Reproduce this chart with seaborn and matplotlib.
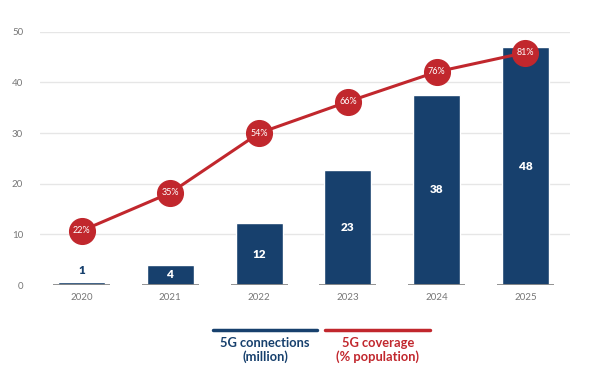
import numpy as np
import pandas as pd
import seaborn as sns
from matplotlib import pyplot as plt
from matplotlib.lines import Line2D

# dados
anos = ['2020', '2021', '2022', '2023', '2024', '2025']
conexoes = [0.6, 4.0, 12.2, 22.7, 37.6, 47.0]        # altura das barras
rotulos_conexoes = ['1', '4', '12', '23', '38', '48']
cobertura_y = [10.7, 18.2, 30.0, 36.2, 42.1, 45.9]   # posicao da linha no eixo
rotulos_cobertura = ['22%', '35%', '54%', '66%', '76%', '81%']

azul = '#17406D'
vermelho = '#C1272D'
cinza = '#8a8a8a'

df = pd.DataFrame({'ano': anos, 'conexoes': conexoes})

sns.set_style('white')
plt.rcParams['font.family'] = ['Lato', 'DejaVu Sans']

fig = plt.figure(figsize=(6.03, 3.79), dpi=100)
ax = fig.add_axes([0.066, 0.248, 0.879, 0.668])

# grade horizontal
for v in [10, 20, 30, 40, 50]:
    ax.axhline(v, color='#e6e6e6', lw=1, zorder=0)

sns.barplot(data=df, x='ano', y='conexoes', color=azul, width=0.53,
            saturation=1, ax=ax, zorder=2)

x = np.arange(len(anos))
# segmentos cinzas na base
for xi in x:
    ax.plot([xi - 0.32, xi + 0.32], [0, 0], color=cinza, lw=1.3, zorder=3,
            solid_capstyle='butt')

# rotulos das barras
for xi, v, r in zip(x, conexoes, rotulos_conexoes):
    if v < 2:
        ax.text(xi, v + 1.2, r, ha='center', va='bottom', color=azul,
                fontsize=8.5, fontweight='heavy')
    else:
        ax.text(xi, v / 2, r, ha='center', va='center', color='white',
                fontsize=8.5, fontweight='heavy', zorder=4)

# linha de cobertura
ax.plot(x, cobertura_y, color=vermelho, lw=2.2, zorder=5,
        marker='o', markersize=18.5, markerfacecolor=vermelho,
        markeredgecolor=vermelho, clip_on=False)
for xi, v, r in zip(x, cobertura_y, rotulos_cobertura):
    ax.text(xi, v, r, ha='center', va='center', color='white', fontsize=6.5,
            fontstretch='condensed', zorder=6)

ax.set_xlim(-0.47, 5.5)
ax.set_ylim(0, 50)
ax.set_yticks([0, 10, 20, 30, 40, 50])
ax.set_xlabel('')
ax.set_ylabel('')
ax.tick_params(axis='both', length=0, colors='#777777', labelsize=7)
ax.tick_params(axis='y', pad=12)
ax.tick_params(axis='x', pad=6)
sns.despine(ax=ax, left=True, bottom=True)

# legenda manual embaixo
fig.add_artist(Line2D([213 / 603, 317 / 603], [1 - 330 / 379] * 2,
                      color=azul, lw=2.5))
fig.add_artist(Line2D([325 / 603, 430 / 603], [1 - 330 / 379] * 2,
                      color=vermelho, lw=2.5))
fig.text(265 / 603, 1 - 350 / 379, '5G connections\n(million)', ha='center',
         va='center', color=azul, fontsize=9.3, fontweight='bold',
         linespacing=1.1)
fig.text(378 / 603, 1 - 350 / 379, '5G coverage\n(% population)', ha='center',
         va='center', color=vermelho, fontsize=9.3, fontweight='bold',
         linespacing=1.1)

fig.savefig('out.png', dpi=100)
